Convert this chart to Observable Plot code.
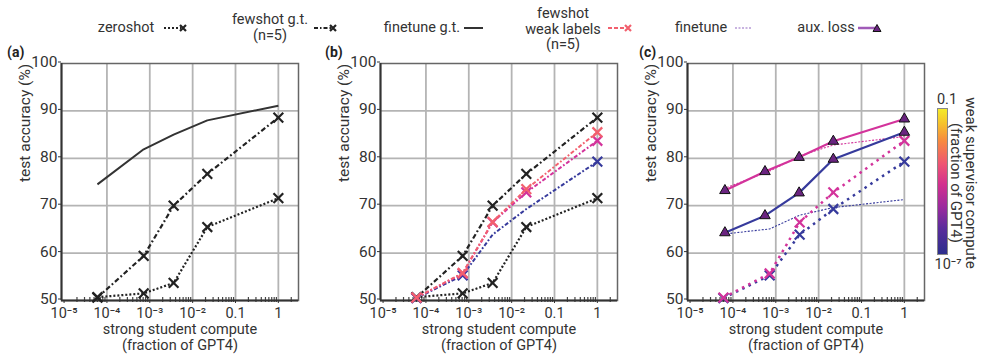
<!DOCTYPE html>
<html><head><meta charset="utf-8">
<script src="https://cdn.jsdelivr.net/npm/d3@7"></script>
<script src="https://cdn.jsdelivr.net/npm/@observablehq/plot@0.6"></script>
<style>
body{margin:0;background:#fff;}
#wrap{position:relative;width:981px;height:356px;font-family:Roboto,"Liberation Sans",sans-serif;color:#333;overflow:hidden;background:#fff;}
.plot{position:absolute;top:0;}
.lg{position:absolute;font-size:14.5px;line-height:15.5px;text-align:center;white-space:nowrap;transform:translate(-50%,-50%);}
.sw{position:absolute;transform:translateY(-50%);}
.pl{position:absolute;font-size:14px;font-weight:bold;color:#222;}
</style></head><body><div id="wrap"></div>
<script>
// ---- data ----
const computeX = [6e-5, 7.2e-4, 3.6e-3, 2.2e-2, 1];
const auxX = [6.5e-5, 5.6e-4, 3.5e-3, 2.2e-2, 1];
const zeroshot = [50.7, 51.5, 53.7, 65.5, 71.6];
const fewshotGT = [50.6, 59.4, 70.0, 76.7, 88.6];
const finetuneGT = [74.5, 81.9, 85.0, 88.0, 91.1];
const weakHigh = [50.6, 55.8, 66.6, 73.5, 85.5];
const weakMid = [50.6, 55.7, 66.5, 72.8, 83.7];
const weakLow = [50.5, 55.3, 63.9, 69.3, 79.3];
const weakLowMarkedB = [true, true, false, false, true];
const finetuneMid = [73.6, 77.3, 80.5, 82.8, 84.6];
const finetuneLow = [64.0, 65.1, 68.0, 69.6, 71.3];
const auxMid = [73.2, 77.2, 80.2, 83.6, 88.3];
const auxLow = [64.3, 67.9, 72.7, 79.8, 85.5];
const xTicks = [1e-5, 1e-4, 1e-3, 1e-2, 0.1, 1];
const xTickLabels = ["10⁻⁵", "10⁻⁴", "10⁻³", "10⁻²", "0.1", "1"];
const yTicks = [50, 60, 70, 80, 90, 100];
const colors = {high: "#f2606e", mid: "#d3339b", low: "#363a9c", lav: "#b79ad6", tri: "#6a2480"};

const xDomain = [10 ** -5.06, 10 ** 0.47];
const minor = [];
for (let e = -5; e <= 0; e++) for (let m = 2; m <= 9; m++) { const v = m * 10 ** e; if (v < xDomain[1]) minor.push(v); }

const rows = (xs, ys) => xs.map((x, i) => ({x, y: ys[i], i}));

function lineMarks(xs, ys, opts, dotOpts) {
  const d = rows(xs, ys);
  const out = [Plot.line(d, {x: "x", y: "y", strokeWidth: 2, strokeLinecap: "butt", ...opts})];
  if (dotOpts) out.push(Plot.dot(dotOpts.filter ? d.filter(dotOpts.filter) : d, {x: "x", y: "y", ...dotOpts.style}));
  return out;
}
const cross = (c) => ({style: {symbol: "times", r: 4.5, stroke: c, strokeWidth: 2.2}});

function panel(left, marks) {
  const p = Plot.plot({
    width: 320, height: 356, marginLeft: 61, marginRight: 22, marginTop: 63, marginBottom: 56,
    style: {fontFamily: "Roboto, sans-serif", fontSize: "15px", color: "#333", background: "transparent", overflow: "visible"},
    x: {type: "log", domain: xDomain},
    y: {domain: [50, 100]},
    marks: [
      Plot.gridX({ticks: xTicks.slice(1), stroke: "#b4b4b4", strokeOpacity: 1, strokeWidth: 1.8}),
      Plot.gridY({ticks: [60, 70, 80, 90], stroke: "#b4b4b4", strokeOpacity: 1, strokeWidth: 1.8}),
      Plot.frame({stroke: "#666", strokeWidth: 1.5}),
      Plot.ruleX(minor, {x: d => d, y1: 50, y2: 50, insetTop: -3, insetBottom: -2, stroke: "#444", strokeWidth: 1.2}),
      Plot.axisX({ticks: xTicks, tickFormat: d => xTickLabels[xTicks.indexOf(d)], tickSize: 3, tickPadding: 4.5, label: null, fontSize: 14.5}),
      Plot.axisY({ticks: yTicks, tickSize: 3, tickPadding: 1, label: null, fontSize: 15.5, dy: -1.5}),
      Plot.ruleY([50], {stroke: "#333", strokeWidth: 2}),
      Plot.ruleX([xDomain[0]], {stroke: "#333", strokeWidth: 2}),
      ...marks,
      Plot.text(["test accuracy (%)"], {frameAnchor: "left", dx: -36, rotate: -90, fontSize: 15.5, fill: "#333"}),
      Plot.text(["strong student compute\n(fraction of GPT4)"], {frameAnchor: "bottom", dy: 22.5, lineAnchor: "top", lineHeight: 1.1, fontSize: 14.5, fill: "#333"})
    ]
  });
  p.classList.add("plot");
  p.style.left = left + "px";
  document.getElementById("wrap").appendChild(p);
}

const zsStyle = {stroke: "#222", strokeDasharray: "2,2", strokeWidth: 2.2};
const fsStyle = {stroke: "#222", strokeDasharray: "5,2.5,1.8,2.5", strokeWidth: 2.2};
const baseMarks = () => [
  ...lineMarks(computeX, zeroshot, zsStyle, cross("#222")),
  ...lineMarks(computeX, fewshotGT, fsStyle, cross("#222"))
];

// (a)
panel(0, [
  ...lineMarks(computeX, finetuneGT, {stroke: "#333", strokeWidth: 2}),
  ...baseMarks()
]);

// (b)
const wbStyle = c => ({stroke: c, strokeDasharray: "4,2,1.8,2", strokeWidth: 2});
panel(319, [
  ...baseMarks(),
  ...lineMarks(computeX, weakLow, wbStyle(colors.low), {...cross(colors.low), filter: d => weakLowMarkedB[d.i]}),
  ...lineMarks(computeX, weakMid, wbStyle(colors.mid), cross(colors.mid)),
  ...lineMarks(computeX, weakHigh, wbStyle(colors.high), cross(colors.high))
]);

// (c)
const ftStyle = c => ({stroke: c, strokeDasharray: "2,1.5", strokeWidth: 1.1});
const wcStyle = c => ({stroke: c, strokeDasharray: "2.5,4.5", strokeWidth: 2.5});
const triStyle = {style: {symbol: "triangle", r: 3.9, fill: colors.tri, stroke: "#111", strokeWidth: 1}};
panel(626, [
  ...lineMarks(computeX, finetuneLow, ftStyle(colors.low)),
  ...lineMarks(computeX, finetuneMid, ftStyle(colors.mid)),
  ...lineMarks(computeX, weakLow, wcStyle(colors.low), cross(colors.low)),
  ...lineMarks(computeX, weakMid, wcStyle(colors.mid), cross(colors.mid)),
  ...lineMarks(auxX, auxLow, {stroke: colors.low, strokeWidth: 2.2}, triStyle),
  ...lineMarks(auxX, auxMid, {stroke: colors.mid, strokeWidth: 2.2}, triStyle)
]);

// ---- legend, panel labels, colorbar (HTML overlay) ----
const wrap = document.getElementById("wrap");
function add(html) { wrap.insertAdjacentHTML("beforeend", html); }
function swatch(x, y, w, lineAttr, marker) {
  let m = "";
  if (marker === "x") m = `<path d="M${w-8},2 L${w-2},8 M${w-2},2 L${w-8},8" stroke="${lineAttr.mc}" stroke-width="2.2"/>`;
  if (marker === "tri") m = `<path d="M${w-5},1.5 L${w-1},8.5 L${w-9},8.5 Z" fill="${colors.tri}" stroke="#111" stroke-width="1"/>`;
  const lw = marker ? w - 7 : w;
  add(`<svg class="sw" style="left:${x}px;top:${y}px" width="${w}" height="10"><line x1="0" y1="5" x2="${lw}" y2="5" stroke="${lineAttr.c}" stroke-width="${lineAttr.sw}" stroke-dasharray="${lineAttr.da || ""}"/>${m}</svg>`);
}
add(`<div class="lg" style="left:126px;top:28px">zeroshot</div>`);
swatch(164, 28, 24, {c: "#222", sw: 2.2, da: "2,2", mc: "#222"}, "x");
add(`<div class="lg" style="left:270px;top:27px">fewshot g.t.<br>(n=5)</div>`);
swatch(314, 28, 24, {c: "#222", sw: 2.2, da: "4,2,1.5,2", mc: "#222"}, "x");
add(`<div class="lg" style="left:422px;top:28px">finetune g.t.</div>`);
swatch(464, 28, 19, {c: "#333", sw: 2});
add(`<div class="lg" style="left:563px;top:29px">fewshot<br>weak labels<br>(n=5)</div>`);
swatch(608, 28, 25, {c: colors.high, sw: 2, da: "4,2", mc: colors.high}, "x");
add(`<div class="lg" style="left:701px;top:28px">finetune</div>`);
swatch(735, 28, 16, {c: colors.lav, sw: 1.5, da: "2,1.5"});
add(`<div class="lg" style="left:826px;top:28px">aux. loss</div>`);
swatch(858, 28, 24, {c: "#a05bb8", sw: 2.5}, "tri");

add(`<div class="pl" style="left:7px;top:44px">(a)</div>`);
add(`<div class="pl" style="left:325px;top:44px">(b)</div>`);
add(`<div class="pl" style="left:639px;top:44px">(c)</div>`);

// colorbar
add(`<div style="position:absolute;left:937px;top:108px;width:9px;height:145px;border:0.5px solid #888;background:linear-gradient(to top,#2c2e8c 0%,#5a2c9c 18%,#9a2a9e 32%,#d2308f 48%,#ee5574 62%,#f78a40 78%,#f6c22c 90%,#f3ea2a 100%)"></div>`);
add(`<div style="position:absolute;left:947px;top:99px;transform:translate(-50%,-50%);font-size:14.5px">0.1</div>`);
add(`<div style="position:absolute;left:948px;top:264px;transform:translate(-50%,-50%);font-size:14.5px">10⁻⁷</div>`);
add(`<div style="position:absolute;left:963px;top:183px;transform:translate(-50%,-50%) rotate(90deg);font-size:15px;line-height:15px;text-align:center;white-space:nowrap">weak supervisor compute<br>(fraction of GPT4)</div>`);
</script></body></html>
